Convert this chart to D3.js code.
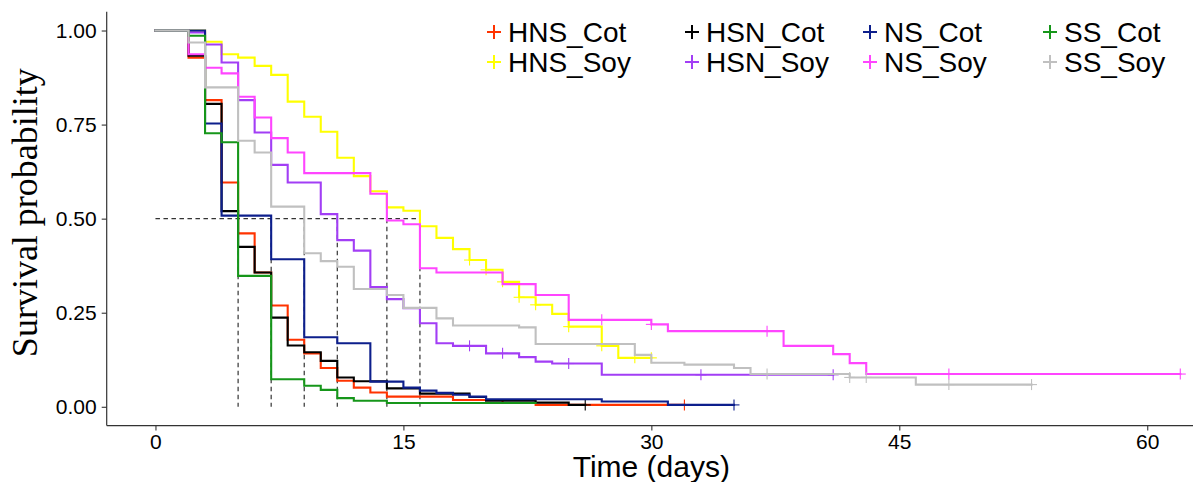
<!DOCTYPE html>
<html>
<head>
<meta charset="utf-8">
<script src="https://cdn.jsdelivr.net/npm/d3@7"></script>
<style>
  html, body { margin: 0; padding: 0; background: #fff; }
  svg { display: block; }
</style>
</head>
<body>
<svg id="chart" width="1193" height="482"></svg>
<script>
// Kaplan-Meier survival by diet / strain group
const groups = ["HNS_Cot", "HSN_Cot", "NS_Cot", "SS_Cot", "HNS_Soy", "HSN_Soy", "NS_Soy", "SS_Soy"];
const colors = ["#ff3300", "#000000", "#0d1f8c", "#16961a", "#ffff00", "#a23ef5", "#ff45ff", "#c0c0c0"];

// event times (days) and survival after each event
const timesHNSCot = [2, 3, 4, 5, 6, 7, 8, 9, 10, 11, 12, 13, 14, 18, 21, 23];
const survHNSCot  = [0.928, 0.815, 0.596, 0.461, 0.357, 0.269, 0.178, 0.142, 0.103, 0.069, 0.051, 0.038, 0.027, 0.018, 0.010, 0.005];
const endHNSCot = 32;
const censHNSCot = [32];

const timesHSNCot = [2, 3, 4, 5, 6, 7, 8, 9, 10, 11, 12, 14, 16, 19, 20, 23, 25];
const survHSNCot  = [0.933, 0.805, 0.520, 0.425, 0.357, 0.237, 0.163, 0.145, 0.122, 0.078, 0.068, 0.049, 0.035, 0.026, 0.016, 0.011, 0.005];
const endHSNCot = 26;
const censHSNCot = [26];

const timesNSCot = [3, 4, 7, 9, 11, 13, 15, 16, 17, 18, 19, 20, 27, 31];
const survNSCot  = [0.753, 0.508, 0.392, 0.185, 0.169, 0.067, 0.051, 0.043, 0.037, 0.032, 0.027, 0.020, 0.014, 0.005];
const endNSCot = 35;
const censNSCot = [35];

const timesSSCot = [2, 3, 4, 5, 7, 9, 10, 11, 12, 14];
const survSSCot  = [0.986, 0.727, 0.703, 0.348, 0.073, 0.056, 0.045, 0.023, 0.016, 0.010];
const endSSCot = 23;
const censSSCot = [];

const timesHNSSoy = [3, 4, 5, 6, 7, 8, 9, 10, 11, 12, 13, 14, 15, 16, 17, 18, 19, 20, 21, 22, 23, 24, 25, 27, 28];
const survHNSSoy  = [0.970, 0.937, 0.928, 0.906, 0.882, 0.811, 0.771, 0.731, 0.662, 0.613, 0.573, 0.530, 0.521, 0.480, 0.449, 0.419, 0.390, 0.364, 0.332, 0.291, 0.271, 0.247, 0.213, 0.162, 0.130];
const endHNSSoy = 30;
const censHNSSoy = [19, 20, 21, 22, 23, 25, 27, 29, 30];

const timesHSNSoy = [2, 3, 4, 5, 6, 7, 8, 10, 11, 12, 13, 14, 15, 16, 17, 18, 20, 22, 23, 24, 27];
const survHSNSoy  = [0.995, 0.963, 0.915, 0.815, 0.729, 0.643, 0.596, 0.512, 0.443, 0.415, 0.318, 0.286, 0.262, 0.222, 0.169, 0.162, 0.142, 0.132, 0.120, 0.115, 0.085];
const endHSNSoy = 41;
const censHSNSoy = [19, 21, 25, 33, 41];

const timesNSSoy = [2, 3, 4, 5, 6, 7, 8, 9, 13, 14, 15, 16, 17, 21, 23, 25, 30, 31, 38, 41, 42, 43];
const survNSSoy  = [0.937, 0.901, 0.886, 0.824, 0.769, 0.714, 0.676, 0.621, 0.566, 0.495, 0.485, 0.368, 0.357, 0.326, 0.297, 0.231, 0.219, 0.201, 0.162, 0.140, 0.116, 0.087];
const endNSSoy = 62;
const censNSSoy = [27, 30, 37, 48, 62];

const timesSSSoy = [2, 3, 5, 6, 7, 9, 10, 11, 12, 14, 15, 17, 18, 22, 23, 29, 30, 32, 35, 36, 42, 46];
const survSSSoy  = [0.968, 0.849, 0.707, 0.676, 0.532, 0.408, 0.387, 0.372, 0.313, 0.297, 0.263, 0.235, 0.216, 0.211, 0.167, 0.138, 0.117, 0.112, 0.103, 0.087, 0.078, 0.059];
const endSSSoy = 53;
const censSSSoy = [37, 42, 43, 48, 53];

// median survival times (drop-lines at S = 0.5)
const medians = [5, 7, 9, 11, 14, 16];

const xTicks = [0, 15, 30, 45, 60];
const yTicks = [0, 0.25, 0.5, 0.75, 1];

const seriesTable = [
  [timesHNSCot, survHNSCot, endHNSCot, censHNSCot],
  [timesHSNCot, survHSNCot, endHSNCot, censHSNCot],
  [timesNSCot, survNSCot, endNSCot, censNSCot],
  [timesSSCot, survSSCot, endSSCot, censSSCot],
  [timesHNSSoy, survHNSSoy, endHNSSoy, censHNSSoy],
  [timesHSNSoy, survHSNSoy, endHSNSoy, censHSNSoy],
  [timesNSSoy, survNSSoy, endNSSoy, censNSSoy],
  [timesSSSoy, survSSSoy, endSSSoy, censSSSoy]
].map((s, i) => ({ name: groups[i], color: colors[i], times: s[0], surv: s[1], end: s[2], cens: s[3] }));

// ---- layout ----
const svg = d3.select("#chart");
const panel = { left: 106.7, right: 1196, top: 11.7, bottom: 425.6 };

const x = d3.scaleLinear().domain([-2.95, 62.95]).range([panel.left, panel.right]);
const y = d3.scaleLinear().domain([-0.05, 1.05]).range([panel.bottom, panel.top]);

const survAt = (s, t) => {
  let v = 1;
  s.times.forEach((tt, k) => { if (tt <= t) v = s.surv[k]; });
  return v;
};

// ---- median reference lines ----
const dash = svg.append("g").attr("stroke", "#333").attr("stroke-width", 1.2)
  .attr("stroke-dasharray", "4.5,3.5").attr("fill", "none");
dash.append("line")
  .attr("x1", x(0)).attr("x2", x(d3.max(medians)))
  .attr("y1", y(0.5)).attr("y2", y(0.5));
dash.selectAll("line.v").data(medians).join("line").attr("class", "v")
  .attr("x1", d => x(d)).attr("x2", d => x(d))
  .attr("y1", y(0.5)).attr("y2", y(0));

// ---- step curves ----
const line = d3.line().x(d => x(d[0])).y(d => y(d[1])).curve(d3.curveStepAfter);

seriesTable.forEach(s => {
  const pts = [[0, 1]];
  s.times.forEach((t, k) => pts.push([t, s.surv[k]]));
  pts.push([s.end, s.surv[s.surv.length - 1]]);
  s.points = pts;
});

// groups are painted in alphabetical order, the last one ends up on top
const drawOrder = groups.map((g, i) => i).sort((a, b) => d3.ascending(groups[a], groups[b]));
const curves = svg.append("g").attr("fill", "none");
drawOrder.forEach(i => {
  const s = seriesTable[i];
  curves.append("path")
    .attr("d", line(s.points))
    .attr("stroke", s.color)
    .attr("stroke-width", 2.1)
    .attr("stroke-linejoin", "miter")
    .attr("stroke-linecap", "square");
  // censoring marks
  const g = curves.append("g").attr("stroke", s.color).attr("stroke-width", 1.1);
  s.cens.forEach(t => {
    const cx = x(t), cy = y(survAt(s, t));
    g.append("line").attr("x1", cx).attr("x2", cx).attr("y1", cy - 5.5).attr("y2", cy + 5.5);
    g.append("line").attr("x1", cx - 5.5).attr("x2", cx + 5.5).attr("y1", cy).attr("y2", cy);
  });
});

// ---- axes ----
const axisColor = "#333333";
const xAxis = svg.append("g").attr("transform", `translate(0,${panel.bottom})`)
  .call(d3.axisBottom(x).tickValues(xTicks).tickSize(5).tickPadding(3).tickFormat(d3.format("d")));
const yAxis = svg.append("g").attr("transform", `translate(${panel.left},0)`)
  .call(d3.axisLeft(y).tickValues(yTicks).tickSize(5).tickPadding(5).tickFormat(d3.format(".2f")));

[xAxis, yAxis].forEach(a => {
  a.select(".domain").remove();
  a.selectAll(".tick line").attr("stroke", axisColor).attr("stroke-width", 1.1);
  a.selectAll(".tick text")
    .attr("fill", "#000")
    .style("font-family", "'Liberation Sans', Arial, sans-serif")
    .style("font-size", "21px");
});
svg.append("line").attr("x1", panel.left).attr("x2", 1193)
  .attr("y1", panel.bottom).attr("y2", panel.bottom)
  .attr("stroke", axisColor).attr("stroke-width", 1.2);
svg.append("line").attr("x1", panel.left).attr("x2", panel.left)
  .attr("y1", panel.top).attr("y2", panel.bottom)
  .attr("stroke", axisColor).attr("stroke-width", 1.2);

// axis titles
svg.append("text")
  .attr("x", (panel.left + panel.right) / 2).attr("y", 477)
  .attr("text-anchor", "middle")
  .style("font-family", "'Liberation Sans', Arial, sans-serif")
  .style("font-size", "30px")
  .text("Time (days)");

svg.append("text")
  .attr("transform", `translate(37,${(panel.top + panel.bottom) / 2 - 6}) rotate(-90)`)
  .attr("text-anchor", "middle")
  .style("font-family", "'Liberation Serif', 'Times New Roman', serif")
  .style("font-size", "36px")
  .text("Survival probability");

// ---- legend ----
const legendKeyX = [494, 692, 870, 1050];
const legendRowY = [32, 62];
const legend = svg.append("g");
seriesTable.forEach((s, i) => {
  const col = i % 4, row = Math.floor(i / 4);
  const kx = legendKeyX[col], ky = legendRowY[row];
  const g = legend.append("g");
  g.append("line").attr("x1", kx - 7).attr("x2", kx + 7).attr("y1", ky).attr("y2", ky)
    .attr("stroke", s.color).attr("stroke-width", 2);
  g.append("line").attr("x1", kx).attr("x2", kx).attr("y1", ky - 7).attr("y2", ky + 7)
    .attr("stroke", s.color).attr("stroke-width", 2);
  g.append("text")
    .attr("x", kx + 14).attr("y", ky + 10)
    .style("font-family", "'Liberation Sans', Arial, sans-serif")
    .style("font-size", "28px")
    .text(s.name);
});
</script>
</body>
</html>
